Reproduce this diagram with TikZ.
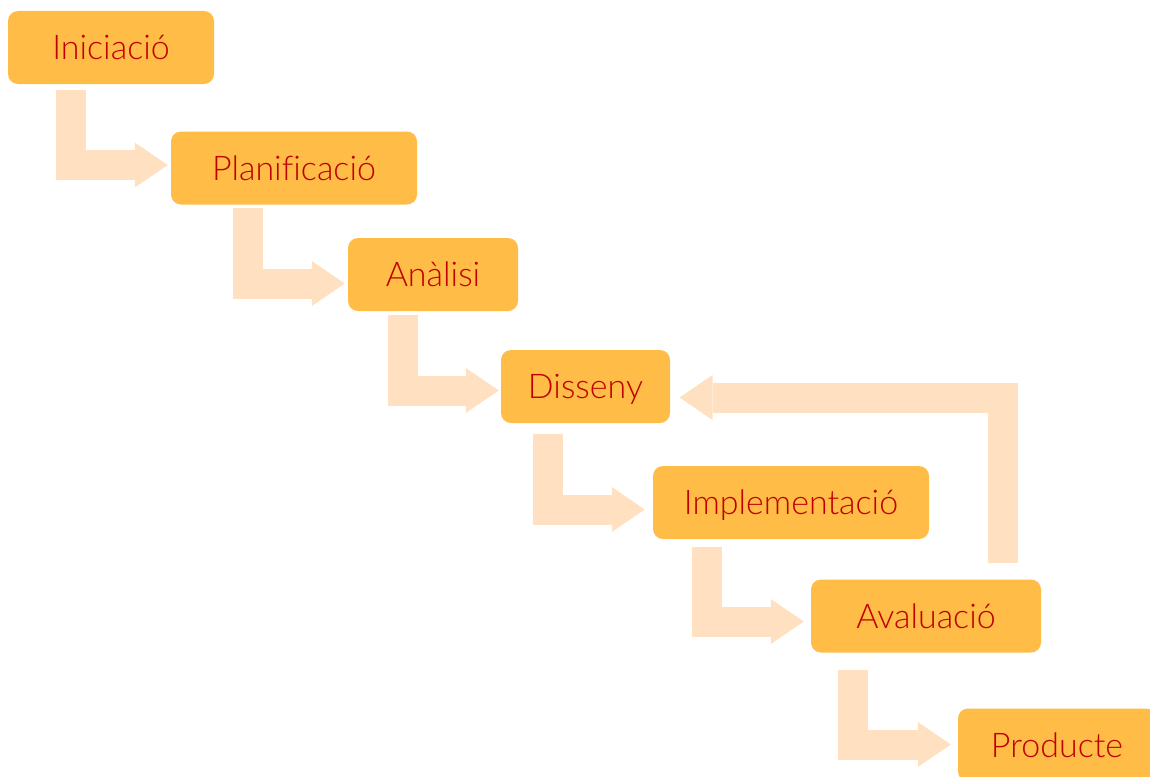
\documentclass[tikz,border=0pt]{standalone}
\usepackage{fontspec}
\setmainfont{Lato Light}[Ligatures=NoCommon]
\usetikzlibrary{arrows.meta,calc}

\definecolor{boxfill}{HTML}{FFBC47}
\definecolor{flowfill}{HTML}{FFE0C1}
\definecolor{stagetext}{HTML}{C00000}

\tikzset{
	stage/.style={fill=boxfill, rounded corners=10pt, text=stagetext, inner sep=0pt,
		font=\fontsize{34}{40}\selectfont, text height=24pt, text depth=0pt, minimum height=73pt},
	flow/.style={color=flowfill, line width=30pt,
		-{Triangle[width=45pt,length=33pt,line width=0pt]}},
}

\begin{document}
\begin{tikzpicture}[x=1pt,y=-1pt]
	\clip (0,0) rectangle (1150,776);
	\node[stage, minimum width=206pt] (ini) at (111,47.5) {Iniciació};
	\node[stage, minimum width=246pt] (plan) at (294,168) {Planificació};
	\node[stage, minimum width=170pt] (anal) at (433,274.5) {Anàlisi};
	\node[stage, minimum width=169pt] (diss) at (585.5,386.5) {Disseny};
	\node[stage, minimum width=276pt] (impl) at (791,502.5) {Implementació};
	\node[stage, minimum width=230pt] (aval) at (926,616) {Avaluació};
	\node[stage, minimum width=198pt] (prod) at (1057,745) {Producte};
	%% step arrows
	\draw[flow] ($(ini.south west)+(63,5.5)$) |- ($(plan.west)+(-3,-3)$);
	\draw[flow] ($(plan.south west)+(77.4,3)$) |- ($(anal.west)+(-3,9)$);
	\draw[flow] ($(anal.south west)+(55.3,4)$) |- ($(diss.west)+(-2,4)$);
	\draw[flow] ($(diss.south west)+(47,11)$) |- ($(impl.west)+(-8,7)$);
	\draw[flow] ($(impl.south west)+(54.5,8)$) |- ($(aval.west)+(-7,5.5)$);
	\draw[flow] ($(aval.south west)+(42.5,17)$) |- ($(prod.west)+(-7,-0.5)$);
	%% back to Disseny
	\draw[flow] ($(aval.north east)+(-38.5,-16.7)$) |- ($(diss.east)+(9.3,11)$);
\end{tikzpicture}
\end{document}
